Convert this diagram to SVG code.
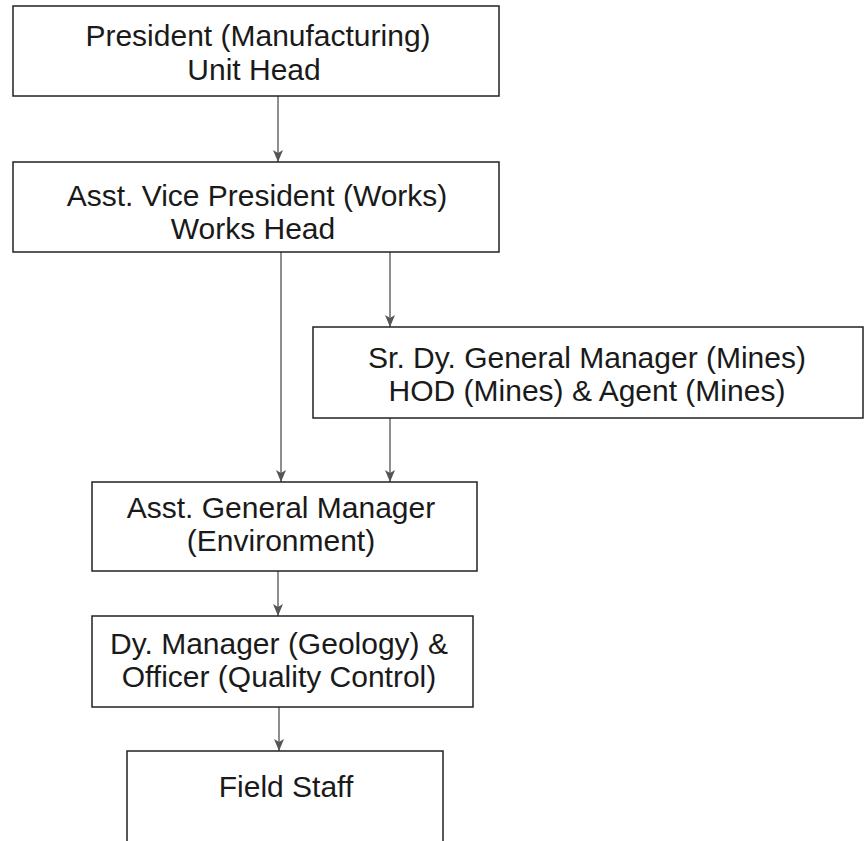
<svg xmlns="http://www.w3.org/2000/svg" width="864" height="841" viewBox="0 0 864 841">
<defs>
<marker id="arr" viewBox="0 0 12 10" refX="12" refY="5" markerWidth="12" markerHeight="10" markerUnits="userSpaceOnUse" orient="auto">
<path d="M0,0 L12,5 L0,10 L3,5 Z" fill="#555"/>
</marker>
</defs>
<style>
.box{fill:#fff;stroke:#222;stroke-width:1.5}
.t{font-family:"Liberation Sans",Arial,sans-serif;font-size:30px;fill:#1a1a1a;text-anchor:middle}
.c{stroke:#444;stroke-width:1.2;fill:none}
</style>
<rect width="864" height="841" fill="#fff"/>
<g id="connectors">
<line class="c" x1="278" y1="96" x2="278" y2="162" marker-end="url(#arr)"/>
<line class="c" x1="281" y1="252" x2="281" y2="482" marker-end="url(#arr)"/>
<line class="c" x1="390" y1="252" x2="390" y2="327" marker-end="url(#arr)"/>
<line class="c" x1="390" y1="418" x2="390" y2="482" marker-end="url(#arr)"/>
<line class="c" x1="278" y1="571" x2="278" y2="616" marker-end="url(#arr)"/>
<line class="c" x1="279" y1="707" x2="279" y2="751" marker-end="url(#arr)"/>
</g>
<g id="n1">
<rect class="box" x="13" y="6" width="486" height="90"/>
<text class="t" x="258" y="46">President (Manufacturing)</text>
<text class="t" x="254" y="80">Unit Head</text>
</g>
<g id="n2">
<rect class="box" x="13" y="162" width="486" height="90"/>
<text class="t" x="257" y="206">Asst. Vice President (Works)</text>
<text class="t" x="253" y="239">Works Head</text>
</g>
<g id="n3">
<rect class="box" x="313" y="327" width="550" height="91"/>
<text class="t" x="587" y="368">Sr. Dy. General Manager (Mines)</text>
<text class="t" x="587" y="401">HOD (Mines) &amp; Agent (Mines)</text>
</g>
<g id="n4">
<rect class="box" x="92" y="482" width="385" height="89"/>
<text class="t" x="281" y="518">Asst. General Manager</text>
<text class="t" x="281" y="551">(Environment)</text>
</g>
<g id="n5">
<rect class="box" x="92" y="616" width="381" height="91"/>
<text class="t" x="279" y="654">Dy. Manager (Geology) &amp;</text>
<text class="t" x="279" y="687">Officer (Quality Control)</text>
</g>
<g id="n6">
<path class="box" d="M127,845 L127,751 L443,751 L443,845"/>
<text class="t" x="286" y="797">Field Staff</text>
</g>
</svg>
